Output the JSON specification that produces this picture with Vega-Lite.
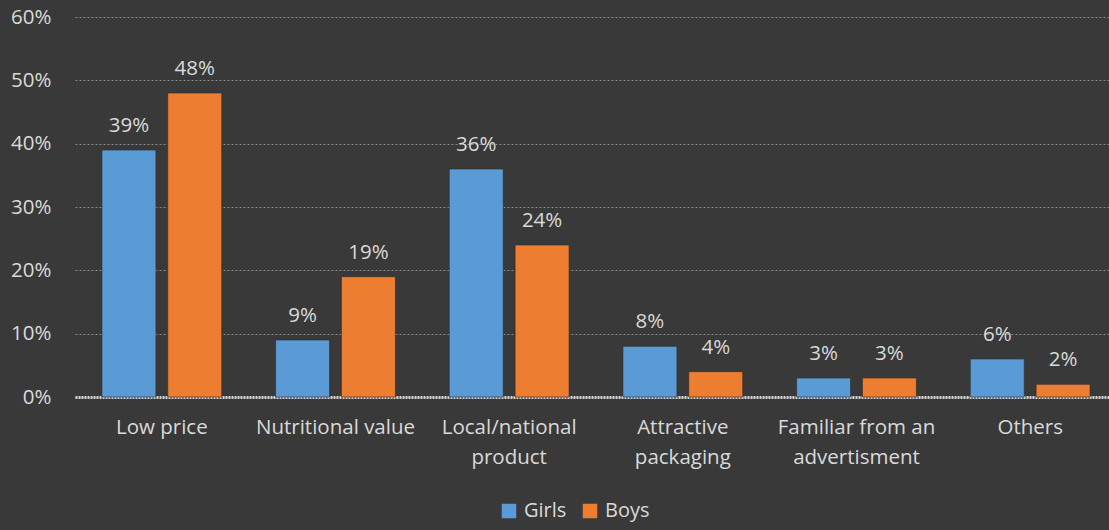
{
  "$schema": "https://vega.github.io/schema/vega-lite/v6.json",
  "width": 1042,
  "height": 380,
  "autosize": {"type": "none"},
  "padding": {"left": 75, "top": 17, "right": 0, "bottom": 133},
  "background": "#393939",
  "config": {
    "view": {"stroke": null},
    "font": "Open Sans"
  },
  "data": {
    "values": [
      {"reason": "Low price", "gender": "Girls", "value": 39},
      {"reason": "Low price", "gender": "Boys", "value": 48},
      {"reason": "Nutritional value", "gender": "Girls", "value": 9},
      {"reason": "Nutritional value", "gender": "Boys", "value": 19},
      {"reason": "Local/national product", "gender": "Girls", "value": 36},
      {"reason": "Local/national product", "gender": "Boys", "value": 24},
      {"reason": "Attractive packaging", "gender": "Girls", "value": 8},
      {"reason": "Attractive packaging", "gender": "Boys", "value": 4},
      {"reason": "Familiar from an advertisment", "gender": "Girls", "value": 3},
      {"reason": "Familiar from an advertisment", "gender": "Boys", "value": 3},
      {"reason": "Others", "gender": "Girls", "value": 6},
      {"reason": "Others", "gender": "Boys", "value": 2}
    ]
  },
  "encoding": {
    "x": {
      "field": "reason",
      "type": "nominal",
      "sort": null,
      "scale": {"paddingInner": 0.31, "paddingOuter": 0.155},
      "axis": {
        "title": null,
        "labelAngle": 0,
        "labelFontSize": 20.5,
        "labelColor": "#d9d9d9",
        "labelPadding": 20,
        "labelLineHeight": 30,
        "labelBaseline": "top",
        "ticks": false,
        "domainColor": "#d0d0d0",
        "domainWidth": 3,
        "domainDash": [2, 1],
        "labelExpr": "datum.label == 'Local/national product' ? ['Local/national', 'product'] : datum.label == 'Attractive packaging' ? ['Attractive', 'packaging'] : datum.label == 'Familiar from an advertisment' ? ['Familiar from an', 'advertisment'] : datum.label"
      }
    },
    "xOffset": {
      "field": "gender",
      "type": "nominal",
      "sort": ["Girls", "Boys"],
      "scale": {"paddingInner": 0.18, "paddingOuter": 0}
    },
    "y": {
      "field": "value",
      "type": "quantitative",
      "scale": {"domain": [0, 60]},
      "axis": {
        "title": null,
        "values": [0, 10, 20, 30, 40, 50, 60],
        "labelExpr": "datum.value + '%'",
        "labelFontSize": 20.5,
        "labelColor": "#d9d9d9",
        "labelPadding": 24,
        "ticks": false,
        "domain": false,
        "gridColor": "#8a8a8a",
        "gridDash": [2, 2],
        "gridWidth": 1
      }
    }
  },
  "layer": [
    {
      "mark": {"type": "bar", "stroke": "#2a2a2a", "strokeWidth": 1, "strokeOpacity": 0.6},
      "encoding": {
        "color": {
          "field": "gender",
          "type": "nominal",
          "sort": ["Girls", "Boys"],
          "scale": {"domain": ["Girls", "Boys"], "range": ["#5b9bd5", "#ed7d31"]},
          "legend": {
            "title": null,
            "orient": "none",
            "direction": "horizontal",
            "legendX": 424,
            "legendY": 484,
            "symbolType": "square",
            "symbolSize": 210,
            "symbolStrokeWidth": 0,
            "labelFontSize": 20,
            "labelColor": "#d9d9d9",
            "columnPadding": 13,
            "labelOffset": 5
          }
        }
      }
    },
    {
      "transform": [{"calculate": "datum.value + '%'", "as": "label"}],
      "mark": {"type": "text", "baseline": "alphabetic", "dy": -18, "fontSize": 20.5, "color": "#d9d9d9"},
      "encoding": {
        "text": {"field": "label", "type": "nominal"}
      }
    }
  ]
}
